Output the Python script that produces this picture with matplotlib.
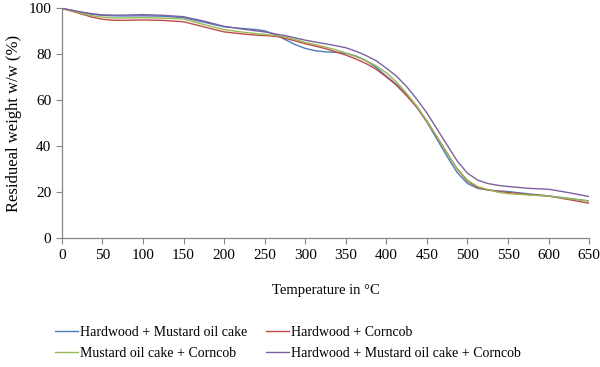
import matplotlib
matplotlib.use("Agg")
from matplotlib import pyplot as plt

# Temperature points (deg C)
temps = [0, 12.5, 25, 37.5, 50, 62.5, 75, 100, 125, 150, 175, 200, 225, 240, 250, 265, 275,
         287.5, 300, 312.5, 325, 337.5, 350, 362.5, 375, 387.5, 400, 412.5, 425, 437.5, 450,
         462.5, 475, 487.5, 500, 512.5, 525, 537.5, 550, 575, 600, 625, 650]

hardwood_mustard = [100, 99.2, 98.2, 97.4, 97.0, 96.8, 96.7, 96.8, 96.6, 96.0, 94.0, 92.0, 91.2,
                    90.8, 90.3, 88.3, 86.5, 84.3, 82.6, 81.6, 81.1, 80.9, 80.5, 79.3, 77.3, 74.3,
                    70.5, 67.0, 62.5, 57.0, 50.5, 43.0, 35.5, 28.5, 23.8, 21.7, 21.0, 20.6, 20.3,
                    19.3, 18.4, 17.3, 16.2]
hardwood_corncob = [100, 98.8, 97.5, 96.2, 95.3, 94.9, 94.8, 95.0, 94.8, 94.2, 92.0, 89.8, 88.8,
                    88.4, 88.2, 87.8, 87.0, 85.9, 84.6, 83.6, 82.5, 81.1, 79.7, 78.0, 76.0, 73.5,
                    70.2, 66.5, 62.0, 57.0, 51.0, 44.0, 37.0, 30.0, 24.8, 22.0, 21.0, 20.3, 19.9,
                    19.0, 18.3, 16.8, 15.2]
mustard_corncob = [100, 99.0, 97.8, 96.8, 96.2, 95.9, 95.8, 96.0, 95.8, 95.4, 93.0, 90.8, 89.6,
                   89.0, 88.7, 88.2, 87.6, 86.5, 85.2, 84.3, 83.2, 82.0, 80.6, 79.0, 77.2, 75.0,
                   72.0, 68.0, 63.0, 57.5, 51.0, 44.0, 36.8, 30.2, 25.2, 22.5, 21.2, 20.0, 19.4,
                   18.8, 18.3, 17.2, 16.2]
all_three = [100, 99.2, 98.4, 97.7, 97.2, 97.1, 97.1, 97.3, 97.0, 96.4, 94.5, 92.2, 90.9,
             90.2, 89.8, 88.8, 88.2, 87.2, 86.2, 85.4, 84.6, 83.8, 82.9, 81.4, 79.5, 77.2,
             74.0, 70.5, 66.0, 60.5, 54.5, 47.5, 40.5, 33.5, 28.3, 25.3, 23.8, 23.0, 22.5,
             21.7, 21.3, 19.8, 18.1]

series = [
    ("Hardwood + Mustard oil cake", hardwood_mustard, "#4a7ebb"),
    ("Hardwood + Corncob", hardwood_corncob, "#be4b48"),
    ("Mustard oil cake + Corncob", mustard_corncob, "#98b954"),
    ("Hardwood + Mustard oil cake + Corncob", all_three, "#7d60a0"),
]

plt.rcParams["font.family"] = ["Liberation Serif", "DejaVu Serif"]

fig = plt.figure(figsize=(6, 3.67), dpi=100)
ax = fig.add_axes([0.103, 0.351, 0.879, 0.626])

lines = []
for name, vals, col in series:
    ln, = ax.plot(temps, vals, color=col, lw=1.0, label=name)
    lines.append(ln)

ax.set_xlim(0, 650)
ax.set_ylim(0, 100)
ax.set_xticks(range(0, 651, 50))
ax.set_yticks(range(0, 101, 20))
ax.tick_params(labelsize=11, direction="out", length=4, color="#868686", width=0.8)
for s in ["top", "right"]:
    ax.spines[s].set_visible(False)
for s in ["left", "bottom"]:
    ax.spines[s].set_color("#868686")
    ax.spines[s].set_linewidth(0.9)

ax.set_xlabel("Temperature in °C", fontsize=10.5, labelpad=16)
ax.set_ylabel("Residueal weight w/w (%)", fontsize=12, labelpad=5)

# legend fills column by column, so reorder to get reference row layout
order = [0, 2, 1, 3]
fig.legend([lines[i] for i in order], [series[i][0] for i in order],
           loc="lower left", bbox_to_anchor=(0.07, -0.015), ncol=2, frameon=False,
           fontsize=10, handlelength=1.7, columnspacing=1.3, handletextpad=0.15,
           labelspacing=0.6)

fig.savefig("out.png", dpi=100)
